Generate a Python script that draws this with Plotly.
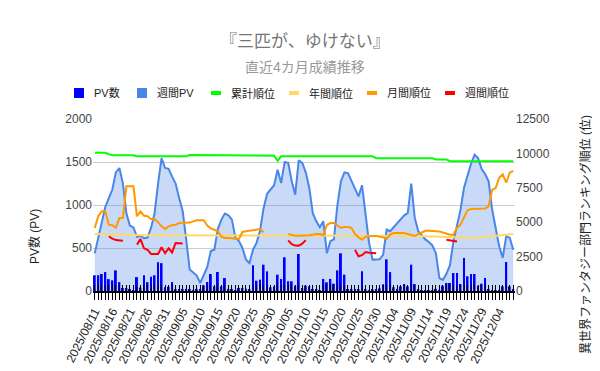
import pandas as pd
import plotly.graph_objects as go

dates = list(pd.date_range("2025-08-11", periods=120).strftime("%Y/%m/%d"))

pv_daily = [183,183,198,220,138,124,240,103,35,35,
            15,10,161,40,183,103,165,183,335,324,
            45,50,103,15,15,15,25,15,10,25,
            15,66,105,198,54,221,54,151,25,15,
            10,35,35,25,15,299,120,132,306,229,
            43,54,190,140,392,113,113,62,430,35,
            62,54,15,15,10,140,101,140,85,240,
            438,190,20,20,20,15,229,15,10,20,
            15,30,78,368,220,43,20,54,81,54,
            306,81,15,10,10,10,10,25,5,62,
            93,93,209,209,81,384,171,198,198,62,
            85,151,15,10,10,10,54,337,54,15]

pv_weekly = [440,620,790,980,1080,1180,1380,1430,1255,900,
             760,740,630,640,615,620,733,900,1250,1545,
             1430,1420,1330,1250,1080,930,600,250,215,180,
             93,180,280,465,480,720,830,900,880,830,
             620,580,500,365,325,480,560,700,960,1130,
             1180,1230,1410,1255,1500,1490,1280,1120,1520,1490,
             1380,1200,905,810,740,810,440,580,600,1000,
             1275,1380,1370,1280,1200,1100,1230,905,560,365,
             365,370,420,715,695,740,790,830,880,905,
             1250,850,695,650,600,570,530,440,150,130,
             200,300,580,760,945,1200,1350,1480,1585,1545,
             1420,1360,1275,950,733,520,385,635,620,480]

rank_total = [10050,10050,10050,10050,9950,9870,9870,9870,9870,9870,
              9870,9870,9800,9800,9800,9800,9800,9800,9830,9830,
              9800,9800,9800,9800,9800,9800,9800,9880,9880,9880,
              9880,9880,9880,9880,9880,9880,9830,9830,9830,9830,
              9830,9830,9830,9830,9830,9830,9830,9830,9830,9830,
              9830,9830,9460,9790,9790,9790,9790,9790,9790,9790,
              9790,9790,9790,9790,9790,9790,9790,9790,9790,9790,
              9790,9790,9790,9790,9790,9790,9790,9790,9790,9790,
              9650,9650,9650,9650,9650,9650,9650,9650,9650,9650,
              9650,9650,9650,9650,9650,9650,9650,9560,9560,9560,
              9560,9430,9430,9430,9430,9430,9430,9430,9430,9430,
              9430,9430,9430,9430,9430,9430,9430,9430,9430,9430]

rank_year = [4140,4130,4120,4110,4100,4100,4090,4090,4080,4080,
             4070,4070,4060,4060,4050,4050,4050,4040,4040,4040,
             4030,4030,4030,4030,4020,4020,4020,4020,4020,4020,
             4020,4010,4010,4010,4010,4010,4000,4000,4000,4000,
             4000,4000,4000,4000,4000,4000,4000,4000,4000,4000,
             4000,4000,4000,4000,4000,4000,4000,4000,4000,4000,
             4000,4000,4000,4000,4000,4000,4000,4000,4000,4000,
             4000,4000,4000,4000,4000,4000,4000,4000,4000,4000,
             4010,4010,4010,4010,4010,4010,4010,4010,4020,4020,
             4010,4000,3990,3980,3970,3960,3950,3950,3940,3930,
             3910,3890,3870,3860,3850,3850,3850,3850,3860,3880,
             3900,3930,3960,3990,4010,4040,4070,4090,4120,4140]

rank_month = [4580,5430,5790,5790,4820,4780,4600,5300,5300,7610,
              7610,7610,5430,5790,5470,5430,5230,5230,5000,4700,
              4500,4700,4780,4820,4940,4940,4940,4970,5060,5140,
              5140,5140,4750,4550,4450,4340,3950,3850,3850,3850,
              3800,3780,4290,4340,4380,4410,4500,4500,4270,None,
              None,None,None,None,None,4140,4080,4020,4020,4020,
              4020,4050,4080,4140,4140,4050,4800,4940,4940,4750,
              4580,4650,4650,4580,4140,3900,3730,3950,4000,4000,
              4000,3950,3900,3780,4100,4210,4210,4210,4210,4140,
              4050,4000,4140,4250,4380,4380,4380,4380,4330,4250,
              4150,4090,4090,4580,4820,5300,5870,5960,5960,5960,
              5960,5990,6150,7360,7480,8230,8480,7870,8600,8720]

rank_week = [None,None,None,None,3970,3800,3700,3670,3660,None,
             None,None,3370,3780,3100,3000,2690,2690,2690,3180,
             2750,3100,2800,3490,3490,3450,None,None,None,None,
             None,None,None,None,None,None,None,None,None,None,
             None,None,None,None,None,None,None,None,None,None,
             None,None,None,None,None,3680,3400,3300,3290,3440,
             3700,None,None,None,None,None,None,None,None,None,
             None,None,None,None,3000,2520,2600,2830,2780,2760,
             2740,None,None,None,None,None,None,None,None,None,
             None,None,None,None,None,None,None,None,None,None,
             3730,3700,3640,3600,None,None,None,None,None,None,
             None,None,None,None,None,None,None,None,None,None]

left_ticks = [0, 500, 1000, 1500, 2000]
right_ticks = [0, 2500, 5000, 7500, 10000, 12500]
right_tick_text = ["0", "2500", "5000", "7500", "10000", "12500"]
tick_text = [d if i % 5 == 0 else "" for i, d in enumerate(dates)]

legend_names = ["PV数", "週間PV", "累計順位", "年間順位", "月間順位", "週間順位"]
legend_kinds = ["box", "box", "line", "line", "line", "line"]

FONT = "Liberation Sans, Arial, Noto Sans CJK JP, sans-serif"
C_BAR = "#0000FF"
C_AREA = "#4A86E8"
C_TOTAL = "#00FF00"
C_YEAR = "#FFD966"
C_MONTH = "#FF9900"
C_WEEK = "#FF0000"
legend_colors = [C_BAR, C_AREA, C_TOTAL, C_YEAR, C_MONTH, C_WEEK]

fig = go.Figure()

fig.add_trace(go.Scatter(x=dates, y=pv_weekly, mode="lines", fill="tozeroy",
                         line=dict(color=C_AREA, width=2),
                         fillcolor="rgba(74,134,232,0.3)",
                         showlegend=False, xaxis="x", yaxis="y", name="週間PV"))
fig.add_trace(go.Bar(x=dates, y=pv_daily, marker=dict(color=C_BAR, line=dict(width=0)),
                     showlegend=False, xaxis="x", yaxis="y2", name="PV数"))
for vals, col, nm in [(rank_total, C_TOTAL, "累計順位"), (rank_year, C_YEAR, "年間順位"),
                      (rank_month, C_MONTH, "月間順位"), (rank_week, C_WEEK, "週間順位")]:
    fig.add_trace(go.Scatter(x=dates, y=vals, mode="lines", name=nm,
                             line=dict(color=col, width=2),
                             connectgaps=False, showlegend=False,
                             xaxis="x", yaxis="y3"))
fig.add_trace(go.Scatter(x=[0], y=[0], mode="markers", marker=dict(opacity=0),
                         hoverinfo="skip", showlegend=False, xaxis="x2", yaxis="y"))

L, R, T, B = 85, 93, 111, 88
W, H = 600, 371
pw, ph = W - L - R, H - T - B

def px(x):
    return (x - L) / pw

def py(y):
    return (H - B - y) / ph

LEG_Y = 85
leg_sym_x = [66, 129, 203, 281, 359, 437]
shapes = []
annotations = []
for name, kind, col, x0 in zip(legend_names, legend_kinds, legend_colors, leg_sym_x):
    if kind == "box":
        y0, y1 = LEG_Y - 5, LEG_Y + 5
    else:
        y0, y1 = LEG_Y - 2, LEG_Y + 2
    shapes.append(dict(type="rect", xref="paper", yref="paper",
                       x0=px(x0), x1=px(x0 + 10), y0=py(y1), y1=py(y0),
                       fillcolor=col, line=dict(width=0), layer="above"))
    annotations.append(dict(text=name, x=px(x0 + 18), y=py(LEG_Y), xref="paper", yref="paper",
                            showarrow=False, xanchor="left", yanchor="middle",
                            font=dict(size=11, color="#222222")))

annotations += [
    dict(text="『三匹が、ゆけない』", x=px(297), y=py(33), xref="paper", yref="paper",
         showarrow=False, xanchor="center", yanchor="middle",
         font=dict(size=17, color="#757575")),
    dict(text="直近4カ月成績推移", x=px(297), y=py(59), xref="paper", yref="paper",
         showarrow=False, xanchor="center", yanchor="middle",
         font=dict(size=14, color="#999999")),
    dict(text="PV数 (PV)", x=px(26), y=py(229), xref="paper", yref="paper",
         showarrow=False, textangle=-90, xanchor="center", yanchor="middle",
         font=dict(size=12, color="#222222")),
    dict(text="異世界ファンタジー部門ランキング順位 (位)", x=px(578), y=py(227),
         xref="paper", yref="paper", showarrow=False, textangle=-90,
         xanchor="center", yanchor="middle", font=dict(size=12, color="#222222")),
]

fig.update_layout(
    width=W, height=H,
    margin=dict(l=L, r=R, t=T, b=B, pad=0),
    paper_bgcolor="white", plot_bgcolor="white",
    font=dict(family=FONT, size=12, color="#222222"),
    bargap=0.45,
    showlegend=False,
    xaxis=dict(type="category", range=[-0.5, 119.5], tickmode="array",
               tickvals=dates, ticktext=tick_text, tickangle=-63,
               ticks="outside", ticklen=7, tickwidth=1, tickcolor="#000000",
               showline=True, linecolor="#000000", linewidth=1.5,
               showgrid=False, zeroline=False,
               tickfont=dict(size=12, color="#222222")),
    xaxis2=dict(overlaying="x", anchor="y", type="linear", range=[-0.5, 119.5],
                tickmode="linear", tick0=0, dtick=1, ticks="inside", ticklen=6,
                tickwidth=1, tickcolor="#000000", showticklabels=False,
                showgrid=False, zeroline=False, showline=False),
    yaxis=dict(range=[0, 2000], tickvals=left_ticks, showgrid=True,
               gridcolor="#cccccc", gridwidth=1, zeroline=False, showline=False,
               ticks="", tickfont=dict(size=12, color="#444444")),
    yaxis2=dict(overlaying="y", range=[0, 2000], visible=False),
    yaxis3=dict(overlaying="y", side="right", range=[0, 12500], tickvals=right_ticks,
                ticktext=right_tick_text,
                showgrid=False, zeroline=False, showline=False, ticks="",
                tickfont=dict(size=12, color="#444444")),
    shapes=shapes,
    annotations=annotations,
)

fig.write_html("out.html")
